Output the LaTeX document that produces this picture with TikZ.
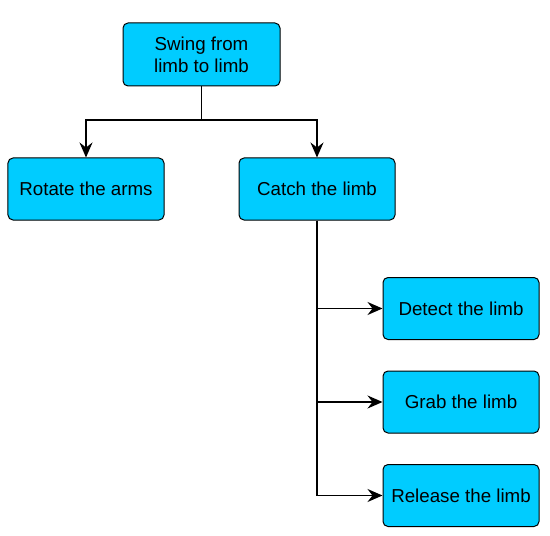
\documentclass[tikz,border=0pt]{standalone}
\usepackage{fontspec}
\setmainfont{Liberation Sans}
\usetikzlibrary{arrows.meta}
\definecolor{boxcyan}{HTML}{00CCFF}

\tikzset{
  task/.style={draw=black, fill=boxcyan, rounded corners=5bp, line width=1bp,
    minimum width=156bp, minimum height=62bp, inner sep=0pt, align=center,
    font=\fontsize{18.8}{22}\selectfont},
  link/.style={draw=black, line width=1.5bp, -{Stealth[length=15bp,width=13bp,inset=5bp]}}
}

\begin{document}
\begin{tikzpicture}[x=1bp, y=-1bp]
\useasboundingbox (0,0) rectangle (550,536);
\node[task, minimum width=157bp, minimum height=63bp] (swing) at (201.5,54.5) {Swing from\\limb to limb};
\node[task] (rotate) at (86,189) {Rotate the arms};
\node[task] (catch) at (317,189) {Catch the limb};
\node[task] (detect) at (461,308.5) {Detect the limb};
\node[task] (grab) at (461,402) {Grab the limb};
\node[task] (release) at (461,495.5) {Release the limb};
\coordinate (split) at (201.5,120);
\draw[link] (swing.south) -- (split) -| (rotate.north);
\draw[link] (swing.south) -- (split) -| (catch.north);
\foreach \t in {detect, grab, release}
  \draw[link] (catch.south) |- (\t.west);
\end{tikzpicture}
\end{document}
